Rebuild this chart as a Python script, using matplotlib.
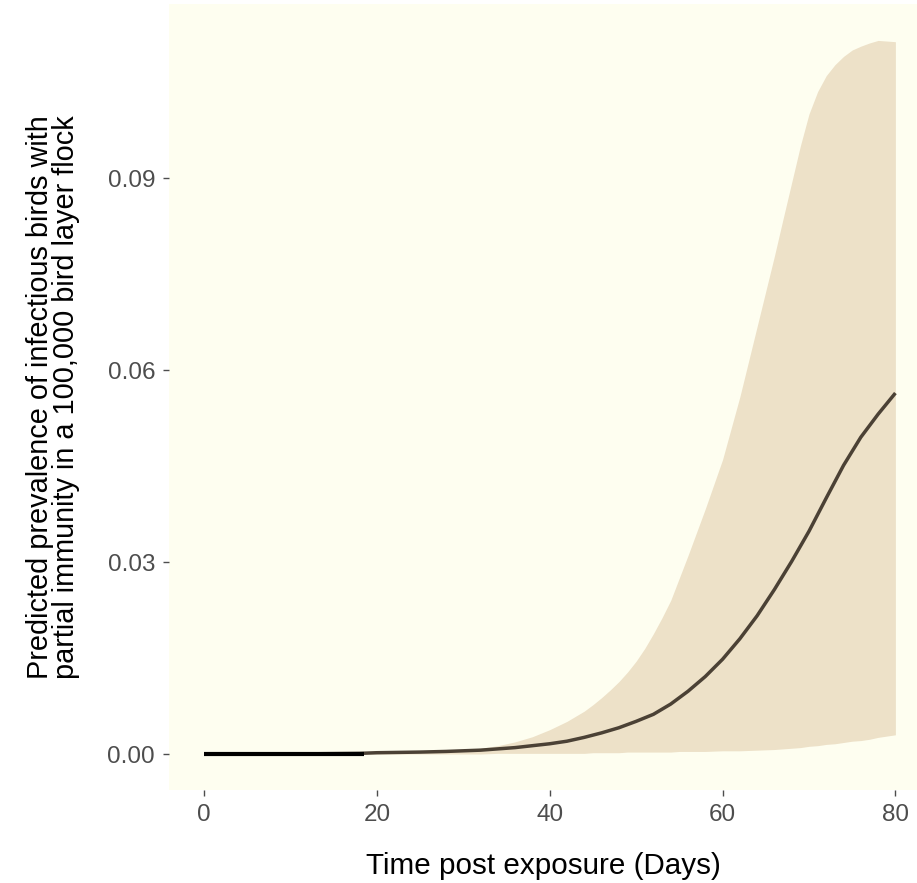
import numpy as np
import matplotlib
matplotlib.use('Agg')
import matplotlib.pyplot as plt

# predicted prevalence
mean_days = [0, 10, 18, 20, 25, 28, 32, 36, 40, 42, 44, 46, 48, 50, 52, 54, 56, 58, 60, 62,
             64, 66, 68, 70, 72, 74, 76, 78, 80]
mean_prev = [0, 0, 0.0001, 0.0002, 0.0003, 0.0004, 0.0006, 0.0010, 0.0016, 0.0020, 0.0026,
             0.0033, 0.0041, 0.0051, 0.0062, 0.0078, 0.0098, 0.0121, 0.0148, 0.0180, 0.0216,
             0.0257, 0.0301, 0.0348, 0.0400, 0.0451, 0.0495, 0.0531, 0.0564]

band_days = [0, 20, 25, 28, 30, 32, 34, 36, 38, 40, 42, 44, 45, 46, 47, 48, 49, 50, 51, 52,
             53, 54, 55, 56, 58, 60, 62, 64, 66, 67, 68, 69, 70, 71, 72, 73, 74, 75, 76, 77,
             78, 79, 80]
band_high = [0, 0.0001, 0.0002, 0.0004, 0.0006, 0.0009, 0.0013, 0.0019, 0.0027, 0.0038,
             0.0051, 0.0067, 0.0077, 0.0088, 0.0100, 0.0113, 0.0128, 0.0145, 0.0165, 0.0188,
             0.0213, 0.0240, 0.0275, 0.0310, 0.0383, 0.0460, 0.0558, 0.0668, 0.0778, 0.0836,
             0.0893, 0.0950, 0.1000, 0.1035, 0.1060, 0.1077, 0.1090, 0.1100, 0.1106, 0.1111,
             0.1115, 0.1114, 0.1113]
band_low = [0, 0, 0, 0, 0, 0, 0.0001, 0.0001, 0.0001, 0.0001, 0.0001, 0.0001, 0.0002, 0.0002,
            0.0002, 0.0002, 0.0003, 0.0003, 0.0003, 0.0003, 0.0003, 0.0003, 0.0004, 0.0004,
            0.0004, 0.0005, 0.0005, 0.0006, 0.0007, 0.0008, 0.0009, 0.0010, 0.0012, 0.0013,
            0.0015, 0.0016, 0.0018, 0.0020, 0.0021, 0.0023, 0.0026, 0.0028, 0.0030]

# early part of the curve is drawn in black in the original
early_days = [0, 18.5]
early_prev = [0, 0]

x_ticks = [0, 20, 40, 60, 80]
y_ticks = [0.00, 0.03, 0.06, 0.09]

plt.rcParams['font.family'] = ['Liberation Sans', 'DejaVu Sans']

fig = plt.figure(figsize=(9.17, 8.83), dpi=100)
ax = fig.add_axes([169 / 917, 93 / 883, 1 - 169 / 917, 786 / 883])
ax.set_facecolor('#FEFEF0')

ax.fill_between(band_days, band_low, band_high, color='#EDE1C8', linewidth=0)
ax.plot(mean_days, mean_prev, color='#4B4135', linewidth=2.5, solid_capstyle='butt')
ax.plot(early_days, early_prev, color='black', linewidth=3.0, solid_capstyle='butt')

ax.set_xlim(-4.05, 82.5)
ax.set_ylim(-0.005625, 0.11719)
ax.set_xticks(x_ticks)
ax.set_xticklabels([str(t) for t in x_ticks])
ax.set_yticks(y_ticks)
ax.set_yticklabels(['{:.2f}'.format(t) for t in y_ticks])

for s in ax.spines.values():
    s.set_visible(False)
ax.tick_params(axis='both', colors='#4D4D4D', labelsize=17.5, length=4, width=1, pad=6)

ax.set_xlabel('Time post exposure (Days)', fontsize=21.3, color='black', labelpad=19)
ax.set_ylabel('Predicted prevalence of infectious birds with\npartial immunity in a 100,000 bird layer flock',
              fontsize=20.8, color='black', labelpad=20, linespacing=0.9)

plt.savefig('out.png', dpi=100)
plt.close()
